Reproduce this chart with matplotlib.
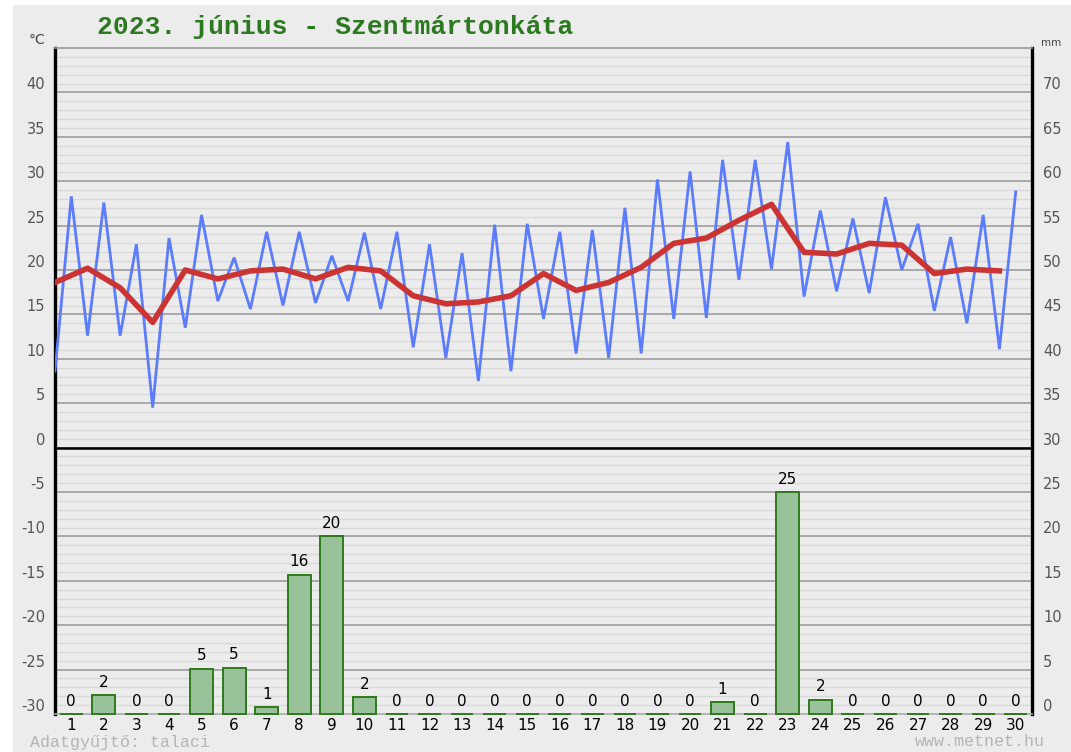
import numpy as np
import matplotlib
matplotlib.use("Agg")
import matplotlib.pyplot as plt
from matplotlib.patches import Rectangle

plt.rcParams["axes.unicode_minus"] = False

# June 2023, Szentmártonkáta daily values
days = np.arange(1, 31)
tmin = [8.6, 12.6, 12.6, 4.5, 13.5, 16.5, 15.6, 16.0, 16.3, 16.5,
        15.6, 11.3, 10.1, 7.5, 8.6, 14.5, 10.6, 10.1, 10.6, 14.5,
        14.6, 18.9, 20.1, 17.0, 17.6, 17.4, 20.0, 15.4, 14.0, 11.1]
tmax = [28.3, 27.6, 22.9, 23.6, 26.2, 21.4, 24.3, 24.3, 21.6, 24.2,
        24.3, 22.9, 21.9, 25.1, 25.2, 24.3, 24.5, 27.0, 30.2, 31.1,
        32.4, 32.4, 34.4, 26.7, 25.8, 28.2, 25.2, 23.7, 26.2, 28.8]
tmean = [18.6, 20.2, 18.0, 14.1, 20.0, 19.0, 19.9, 20.1, 19.0, 20.3,
         19.9, 17.1, 16.2, 16.4, 17.1, 19.6, 17.7, 18.6, 20.3, 23.0,
         23.6, 25.6, 27.4, 22.0, 21.8, 23.0, 22.8, 19.6, 20.1, 19.9]
precip = [0, 2.1, 0, 0, 5.1, 5.2, 0.8, 15.7, 20.0, 1.9,
          0, 0, 0, 0, 0, 0, 0, 0, 0, 0,
          1.3, 0, 25.0, 1.6, 0, 0, 0, 0, 0, 0]

title = "2023. június - Szentmártonkáta"
bg = "#ececec"

fig = plt.figure(figsize=(10.71, 7.52), dpi=100, facecolor="white")
fig.patches.append(Rectangle((13 / 1071, 0), 1, 1 - 5 / 752, transform=fig.transFigure,
                             facecolor=bg, edgecolor="none", zorder=-10))

ax = fig.add_axes([55 / 1071, 1 - 714 / 752, (1032 - 55) / 1071, (714 - 48) / 752])
ax.set_facecolor(bg)
ax.set_xlim(0.5, 30.5)
ax.set_ylim(-30, 45)

# grid: thin every 1 degree, darker every 5
for y in range(-29, 45):
    if y % 5 == 0:
        ax.axhline(y, color="#a3a3a3", lw=1.3, zorder=1)
    else:
        ax.axhline(y, color="#d9d9d9", lw=1.0, zorder=0.5)
ax.axhline(0, color="black", lw=1.8, zorder=2)

# temperature: zigzag min/max and daily mean
xs = np.ravel(np.column_stack([days - 0.5, days]))
ys = np.ravel(np.column_stack([tmin, tmax]))
ax.plot(xs, ys, color="#5b7cff", lw=2.0, zorder=4, solid_joinstyle="miter")
ax.plot(days - 0.5, tmean, color="#cc3333", lw=4.0, zorder=5)

ax.set_yticks(np.arange(-30, 41, 5))
ax.set_xticks(days)
ax.set_xticklabels([str(d) for d in days])
ax.tick_params(axis="y", length=0, pad=7, labelsize=10.5, labelcolor="#555555")
ax.tick_params(axis="x", length=0, pad=3, labelsize=11, labelcolor="black")
plt.setp(ax.get_yticklabels(), va="bottom")

for s in ["left", "right"]:
    ax.spines[s].set_color("black")
    ax.spines[s].set_linewidth(2.4)
ax.spines["top"].set_color("#999999")
ax.spines["top"].set_linewidth(1.2)
ax.spines["bottom"].set_color("#aaaaaa")
ax.spines["bottom"].set_linewidth(1.2)

# precipitation on the right (mm) axis
ax2 = ax.twinx()
ax2.set_ylim(0, 75)
ax2.set_yticks(np.arange(0, 71, 5))
ax2.tick_params(axis="y", length=0, pad=8, labelsize=10.5, labelcolor="#555555")
plt.setp(ax2.get_yticklabels(), va="bottom")
for s in ax2.spines.values():
    s.set_visible(False)

bars = ax2.bar(days, precip, width=0.7, color="#99c29b", edgecolor="#2f7a1c", lw=1.4, zorder=3)
for b in bars:
    b.set_clip_on(False)
for d, p in zip(days, precip):
    ax2.text(d, p + 0.6, f"{p:.0f}", ha="center", va="bottom", fontsize=11, color="black")

fig.text(97 / 1071, 1 - 27 / 752, title, ha="left", va="center",
         family="Liberation Mono", fontweight="bold", fontsize=19, color="#2b7a1f")
fig.text(37 / 1071, 1 - 40 / 752, "°C", ha="center", va="center", fontsize=10, color="#444444")
fig.text(1051 / 1071, 1 - 43 / 752, "mm", ha="center", va="center", fontsize=7.5, color="#444444")
fig.text(30 / 1071, 1 - 742 / 752, "Adatgyűjtő: talaci", ha="left", va="center",
         family="Liberation Mono", fontsize=12, color="#b5b5b5")
fig.text(1045 / 1071, 1 - 742 / 752, "www.metnet.hu", ha="right", va="center",
         family="Liberation Mono", fontsize=12, color="#b5b5b5")

fig.savefig("out.png", dpi=100, facecolor=fig.get_facecolor())
